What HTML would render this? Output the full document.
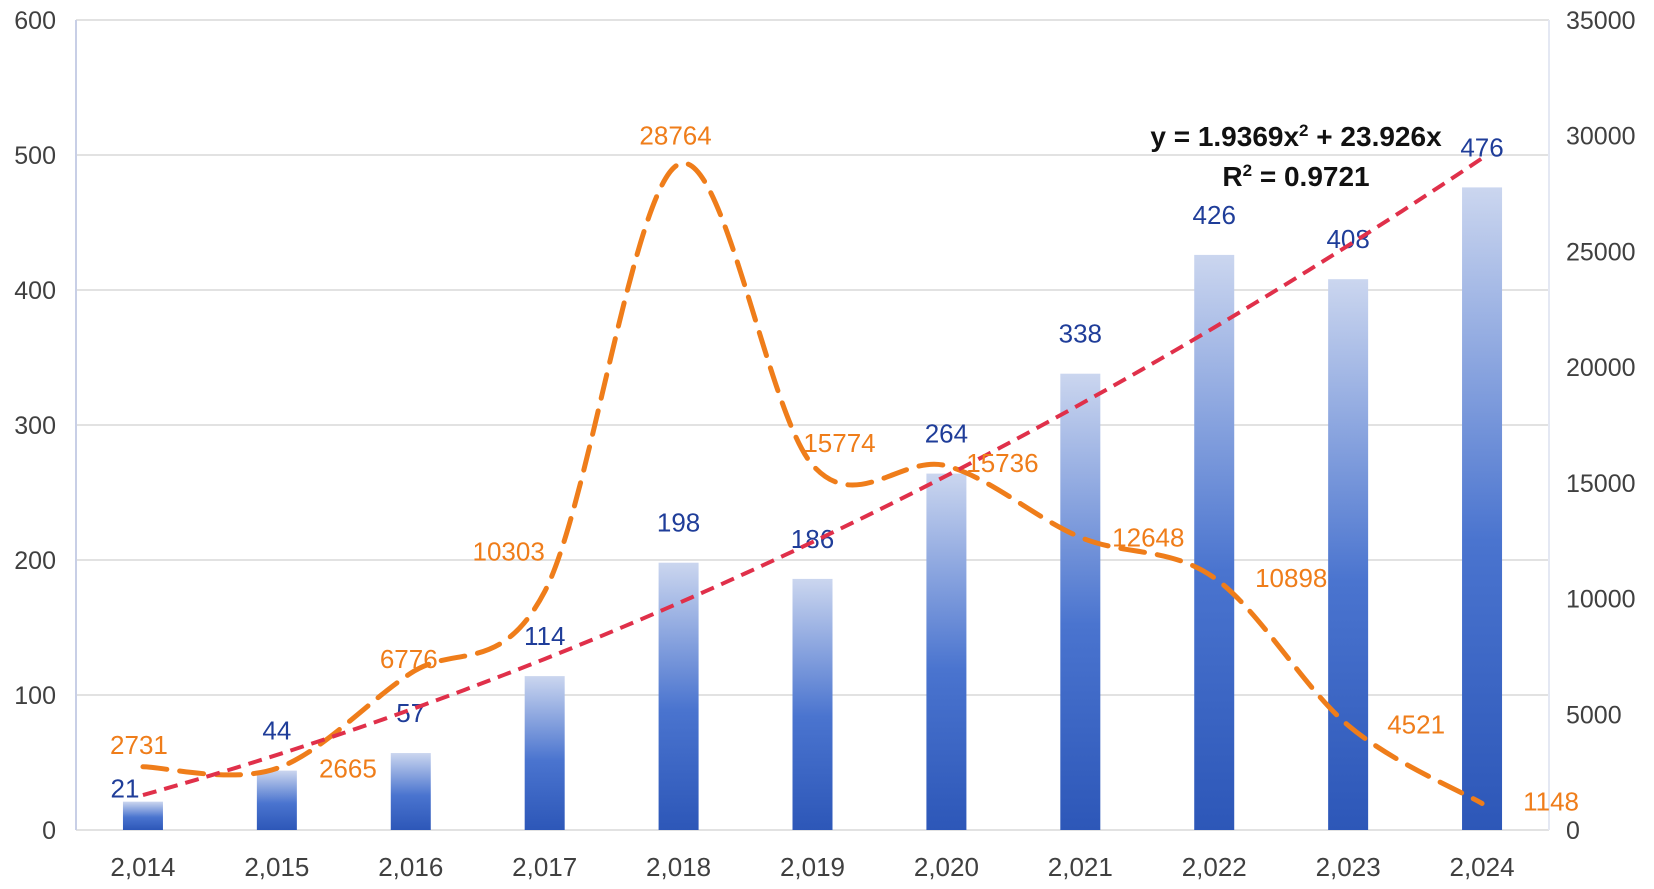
<!DOCTYPE html>
<html><head><meta charset="utf-8"><style>
html,body{margin:0;padding:0;background:#fff;}
svg{display:block;font-family:"Liberation Sans",sans-serif;}
</style></head><body>
<svg id="chart" width="1654" height="889"></svg>
<script>
const categories=["2,014","2,015","2,016","2,017","2,018","2,019","2,020","2,021","2,022","2,023","2,024"];
const barValues=[21,44,57,114,198,186,264,338,426,408,476];
const lineValues=[2731,2665,6776,10303,28764,15774,15736,12648,10898,4521,1148];
const leftTicks=[0,100,200,300,400,500,600];
const rightTicks=[0,5000,10000,15000,20000,25000,30000,35000];
const trendA=1.9369, trendB=23.926;

const NS="http://www.w3.org/2000/svg";
const svg=document.getElementById('chart');
const X0=76,X1=1549,Y0=830,Y1=20;
const band=(X1-X0)/categories.length;
const xc=i=>X0+band*(i+0.5);
const yL=v=>Y0-(v/600)*(Y0-Y1);
const yR=v=>Y0-(v/35000)*(Y0-Y1);
function mk(tag,attrs,parent){const e=document.createElementNS(NS,tag);for(const k in attrs)e.setAttribute(k,attrs[k]);(parent||svg).appendChild(e);return e;}

const defs=mk('defs',{});
const g=mk('linearGradient',{id:'bg',x1:0,y1:0,x2:0,y2:1},defs);
mk('stop',{offset:'0','stop-color':'#cbd6ef'},g);
mk('stop',{offset:'0.55','stop-color':'#4a74cf'},g);
mk('stop',{offset:'1','stop-color':'#2d57b8'},g);

leftTicks.forEach((t,i)=>{
  const y=yL(t);
  const l=mk('line',{x1:X0,x2:X1,y1:y,y2:y,stroke:'#d9d9d9','stroke-width':1.5});
  
  
  const tx=mk('text',{x:56,y:y+9,'text-anchor':'end','font-size':25,fill:'#404040'});
  tx.textContent=t;
  
  
});
rightTicks.forEach(t=>{
  const tx=mk('text',{x:1566,y:yR(t)+9,'font-size':25,fill:'#404040'});
  tx.textContent=t;
  
  
});
const la=mk('line',{x1:X0,x2:X0,y1:Y1,y2:Y0,stroke:'#c8cfe6','stroke-width':2});


const ra=mk('line',{x1:X1,x2:X1,y1:Y1,y2:Y0,stroke:'#e4e8f3','stroke-width':2});



barValues.forEach((v,i)=>{
  const w=40,x=xc(i)-w/2,y=yL(v);
  const r=mk('rect',{x:x,y:y,width:w,height:Y0-y,fill:'url(#bg)'});
  
  
  const t=mk('text',{x:xc(i)+(i===0?-18:0),y:y-(i===0?4:31),'text-anchor':'middle','font-size':26,fill:'#1f3d99'});
  t.textContent=v;
  
  
});
categories.forEach((c,i)=>{
  const t=mk('text',{x:xc(i),y:876,'text-anchor':'middle','font-size':26,fill:'#404040'});
  t.textContent=c;
  
  
});

const pts=lineValues.map((v,i)=>[xc(i),yR(v)]);
let d='M'+pts[0][0]+','+pts[0][1];
for(let i=0;i<pts.length-1;i++){
  const p0=pts[Math.max(i-1,0)],p1=pts[i],p2=pts[i+1],p3=pts[Math.min(i+2,pts.length-1)];
  const c1=[p1[0]+(p2[0]-p0[0])/6,p1[1]+(p2[1]-p0[1])/6];
  const c2=[p2[0]-(p3[0]-p1[0])/6,p2[1]-(p3[1]-p1[1])/6];
  d+=` C${c1[0]},${c1[1]} ${c2[0]},${c2[1]} ${p2[0]},${p2[1]}`;
}
const ol=mk('path',{d:d,fill:'none',stroke:'#ef7d1a','stroke-width':5,'stroke-dasharray':'24 13','stroke-linecap':'round'});



let td='';
for(let k=0;k<=100;k++){
  const xv=1+10*k/100;
  const yv=trendA*xv*xv+trendB*xv;
  const px=xc(0)+(xv-1)*band;
  td+=(k?'L':'M')+px+','+yL(yv);
}
const tl=mk('path',{d:td,fill:'none',stroke:'#e0304a','stroke-width':4,'stroke-dasharray':'14 8'});



const ldx=[-4,71,-2,-36,-3,27,56,68,77,68,69];
const ldy=[-13,9,-5,-31,-20,-13,6,9,9,8,7];
lineValues.forEach((v,i)=>{
  const t=mk('text',{x:pts[i][0]+ldx[i],y:pts[i][1]+ldy[i],'text-anchor':'middle','font-size':26,fill:'#ef7d1a'});
  t.textContent=v;
  
  
});

const eq=mk('text',{x:1296,y:146,'text-anchor':'middle','font-size':28,'font-weight':'bold',fill:'#111'});
eq.innerHTML='y = 1.9369x<tspan dy="-10" font-size="17">2</tspan><tspan dy="10"> + 23.926x</tspan>';


const r2=mk('text',{x:1296,y:186,'text-anchor':'middle','font-size':28,'font-weight':'bold',fill:'#111'});
r2.innerHTML='R<tspan dy="-10" font-size="17">2</tspan><tspan dy="10"> = 0.9721</tspan>';


</script>
</body></html>
